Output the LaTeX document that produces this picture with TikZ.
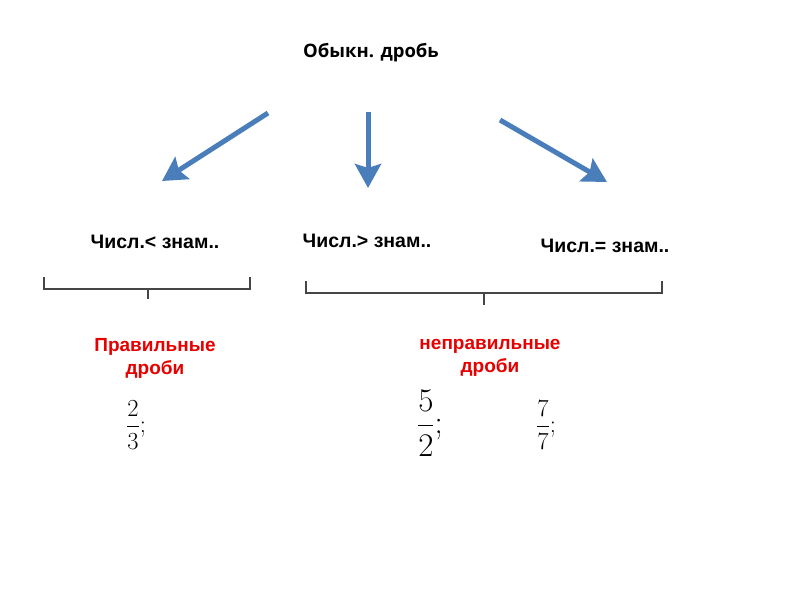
\RequirePackage{fix-cm}
\documentclass[tikz,border=0pt]{standalone}
\usepackage[no-math]{fontspec}
\setmainfont{Liberation Sans}
\newfontfamily\titlefont{Open Sans}
\usepackage{amsmath}
\usetikzlibrary{arrows.meta}
\definecolor{arrowblue}{RGB}{74,126,187}
\definecolor{labelred}{RGB}{230,0,0}
\definecolor{bracegray}{RGB}{70,70,70}
\begin{document}
\begin{tikzpicture}[x=1pt, y=-1pt]
\tikzstyle{label}=[font=\bfseries\fontsize{19.5}{22}\selectfont, inner sep=0pt]
\tikzstyle{kind}=[font=\bfseries\fontsize{19}{23}\selectfont, text=labelred, align=center, inner sep=0pt]
\tikzstyle{bigarrow}=[line width=5pt, arrowblue, -{Stealth[length=24pt, width=26pt, inset=4pt]}]
\tikzstyle{brace}=[bracegray, line width=1.2pt]

\useasboundingbox (0,0) rectangle (800,600);

\coordinate (t) at (371, 53);

\coordinate (l_1) at (155, 242);
\coordinate (l_2) at (367, 241);
\coordinate (l_3) at (605, 246);

\coordinate (k_1) at (155, 358);
\coordinate (k_2) at (490, 358);

\coordinate (f_1) at (136, 425);
\coordinate (f_2) at (430, 423);
\coordinate (f_3) at (546, 425);

\node[font=\titlefont\bfseries\fontsize{18.5}{22}\selectfont] (t) at (t) {Обыкн. дробь};

\node[label] (l_1) at (l_1) {Числ.< знам..};
\node[label] (l_2) at (l_2) {Числ.> знам..};
\node[label] (l_3) at (l_3) {Числ.= знам..};

\node[kind] (k_1) at (k_1) {Правильные\\дроби};
\node[kind] (k_2) at (k_2) {неправильные\\дроби};

\node[font=\fontsize{24.5}{29}\selectfont] (f_1) at (f_1) {$\dfrac{2}{3};$};
\node[font=\fontsize{33}{39}\selectfont] (f_2) at (f_2) {$\dfrac{5}{2};$};
\node[font=\fontsize{24.5}{29}\selectfont] (f_3) at (f_3) {$\dfrac{7}{7};$};

% arrows
\coordinate (a_1_s) at (268, 113);
\coordinate (a_1_e) at (162, 181);
\coordinate (a_2_s) at (368, 112);
\coordinate (a_2_e) at (368, 188);
\coordinate (a_3_s) at (500, 120);
\coordinate (a_3_e) at (607, 182);

\draw[bigarrow] (a_1_s) -- (a_1_e);
\draw[bigarrow] (a_2_s) -- (a_2_e);
\draw[bigarrow] (a_3_s) -- (a_3_e);

% braces
\coordinate (b_1_l) at (44, 277);
\coordinate (b_1_r) at (250, 277);
\coordinate (b_1_m) at (148, 289);
\coordinate (b_1_t) at (148, 299);
\coordinate (b_2_l) at (306, 281);
\coordinate (b_2_r) at (662, 281);
\coordinate (b_2_m) at (484, 293);
\coordinate (b_2_t) at (484, 305);

\draw[brace] (b_1_l) |- (b_1_m) -| (b_1_r);
\draw[brace] (b_1_m) -- (b_1_t);
\draw[brace] (b_2_l) |- (b_2_m) -| (b_2_r);
\draw[brace] (b_2_m) -- (b_2_t);

\end{tikzpicture}
\end{document}
